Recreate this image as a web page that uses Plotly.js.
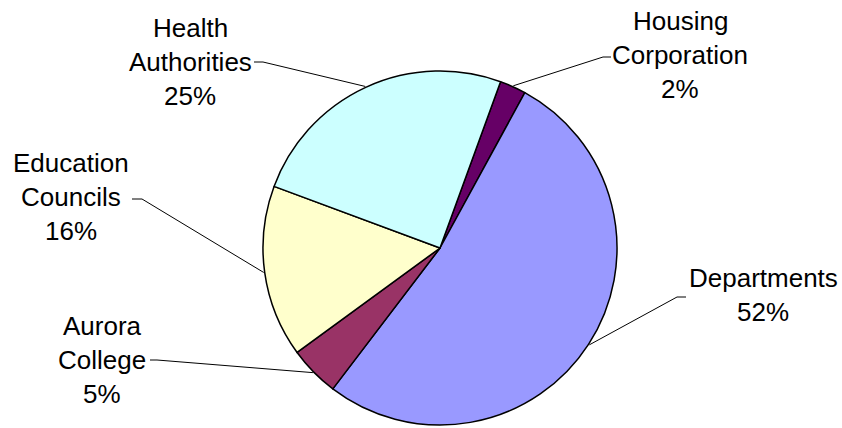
<!DOCTYPE html>
<html>
<head>
<meta charset="utf-8">
<script src="https://cdn.plot.ly/plotly-3.0.1.min.js"></script>
<style>html,body{margin:0;padding:0;background:#fff;}#chart{width:842px;height:428px;}</style>
</head>
<body>
<div id="chart"></div>
<script>
// Data (clockwise order starting at the top-right)
const labels = ['Housing Corporation', 'Departments', 'Aurora College', 'Education Councils', 'Health Authorities'];
const labelLines = [['Housing', 'Corporation'], ['Departments'], ['Aurora', 'College'], ['Education', 'Councils'], ['Health', 'Authorities']];
const values = [2.4, 52.4, 4.6, 15.7, 24.9];
const colors = ['#660066', '#9999FF', '#993366', '#FFFFCC', '#CCFFFF'];

// Layout geometry (pixels)
const W = 842, H = 428;
const CX = 440, CY = 248, R = 177;
const ROT = 20;
const LINE = 34;
// label block: center x, first line y; leader: label end point, elbow point
const labelPos = [
  {x: 680, y: 21, lead: [[611, 57], [603, 57]]},
  {x: 763, y: 278, lead: [[686, 297], [677, 297]]},
  {x: 102, y: 326, lead: [[150, 360], [157, 360]]},
  {x: 71, y: 163, lead: [[132, 199], [142, 199]]},
  {x: 190, y: 28, lead: [[254, 62], [263, 62]]}
];

const px = x => x / W;
const py = y => 1 - y / H;

const total = values.reduce((a, b) => a + b, 0);
const annotations = [];
const shapes = [];
let acc = 0;
values.forEach((v, i) => {
  const mid = (ROT + (acc + v / 2) / total * 360) * Math.PI / 180;
  acc += v;
  const ex = CX + (R + 1) * Math.sin(mid);
  const ey = CY - (R + 1) * Math.cos(mid);
  const lp = labelPos[i];
  const lines = labelLines[i].concat([Math.round(v / total * 100) + '%']);
  lines.forEach((t, k) => {
    annotations.push({
      xref: 'paper', yref: 'paper', x: px(lp.x), y: py(lp.y + k * LINE),
      xanchor: 'center', yanchor: 'middle', showarrow: false, text: t,
      font: {family: 'Liberation Sans, Arial, sans-serif', size: 26, color: '#000'}
    });
  });
  const [a, b] = lp.lead;
  shapes.push({
    type: 'path', xref: 'paper', yref: 'paper', layer: 'above',
    path: `M ${px(a[0])} ${py(a[1])} L ${px(b[0])} ${py(b[1])} L ${px(ex)} ${py(ey)}`,
    line: {color: '#000', width: 1}
  });
});

const trace = {
  type: 'pie', labels: labels, values: values, sort: false,
  direction: 'clockwise', rotation: ROT, textinfo: 'none', hoverinfo: 'label+percent',
  marker: {colors: colors, line: {color: '#000', width: 1.5}},
  domain: {x: [px(CX - R), px(CX + R)], y: [py(CY + R), py(CY - R)]},
  showlegend: false
};

Plotly.newPlot('chart', [trace], {
  width: W, height: H, margin: {l: 0, r: 0, t: 0, b: 0},
  paper_bgcolor: '#fff', plot_bgcolor: '#fff', showlegend: false,
  annotations: annotations, shapes: shapes
}, {staticPlot: true});
</script>
</body>
</html>
